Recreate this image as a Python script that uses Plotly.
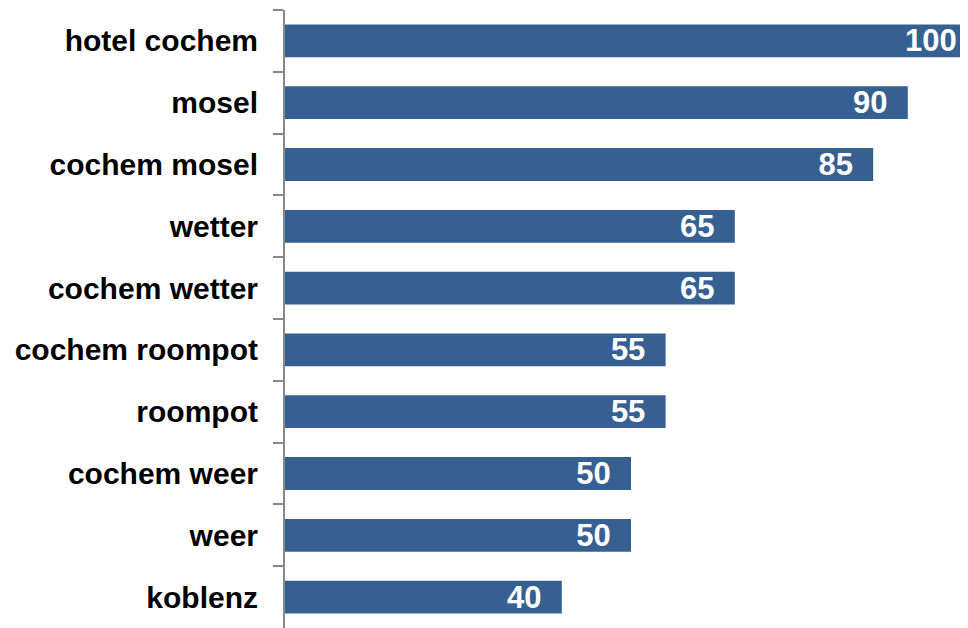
import plotly.graph_objects as go

categories = ["hotel cochem", "mosel", "cochem mosel", "wetter", "cochem wetter",
              "cochem roompot", "roompot", "cochem weer", "weer", "koblenz"]
values = [100, 90, 85, 65, 65, 55, 55, 50, 50, 40]

NB = "\u00a0"
labels = [f"<b>{v}</b>{NB*2}" for v in values]

fig = go.Figure(go.Bar(
    x=values, y=categories, orientation="h",
    marker=dict(color="#376092", line=dict(width=0)),
    text=labels, textposition="inside", insidetextanchor="end",
    constraintext="none", textangle=0,
    textfont=dict(family="Liberation Sans, Arial, sans-serif", size=31, color="white"),
    hoverinfo="skip",
))

fig.update_layout(
    width=960, height=620,
    margin=dict(l=277, r=0, t=2, b=0),
    paper_bgcolor="white", plot_bgcolor="white",
    bargap=0.47, showlegend=False,
    font=dict(family="Liberation Sans, Arial, sans-serif", color="black"),
)
fig.update_xaxes(range=[0, 98.7], visible=False, showgrid=False, zeroline=False)
fig.update_yaxes(
    categoryorder="array", categoryarray=categories, autorange="reversed",
    showline=True, linecolor="#888888", linewidth=2,
    ticks="outside", ticklen=10, tickcolor="#888888", tickwidth=2,
    tickson="boundaries", showgrid=False, zeroline=False,
    tickfont=dict(family="Liberation Sans, Arial, sans-serif", size=30, color="black", weight="bold"),
    ticklabelstandoff=19,
)

fig.write_html("out.html")
